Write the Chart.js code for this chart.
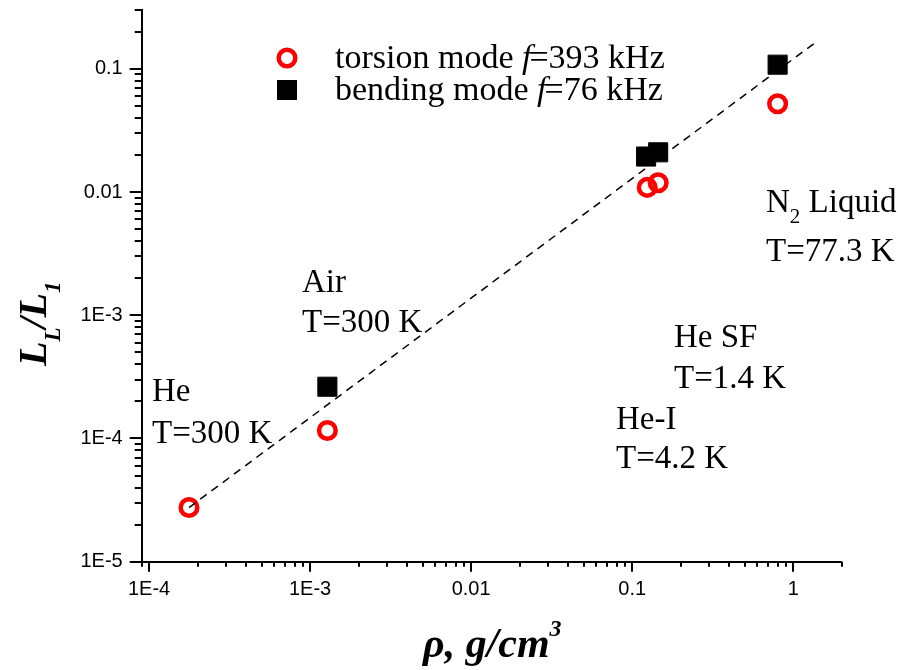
<!DOCTYPE html>
<html>
<head>
<meta charset="utf-8">
<script src="https://cdn.jsdelivr.net/npm/chart.js@4/dist/chart.umd.min.js"></script>
<style>
  html, body { margin: 0; padding: 0; background: #fff; }
  canvas { display: block; }
</style>
</head>
<body>
<canvas id="chart" width="898" height="670"></canvas>
<script>
// Density of the surrounding medium (g/cm^3) and measured loss ratio L_L/L_1
const media = ['He', 'Air', 'He-I', 'He SF', 'N2 Liquid'];
const torsionRho   = [1.77e-4, 1.28e-3, 0.124, 0.145, 0.80];
const torsionRatio = [2.75e-5, 1.16e-4, 0.0109, 0.0119, 0.052];
const bendingRho   = [1.28e-3, 0.122, 0.145, 0.80];
const bendingRatio = [2.63e-4, 0.0194, 0.0210, 0.108];
// Guide line through the data (end points)
const guideRho   = [1.77e-4, 1.43];
const guideRatio = [2.75e-5, 0.170];

const xTickValues = [1e-4, 1e-3, 0.01, 0.1, 1];
const xTickLabels = ['1E-4', '1E-3', '0.01', '0.1', '1'];
const yTickValues = [1e-5, 1e-4, 1e-3, 0.01, 0.1];
const yTickLabels = ['1E-5', '1E-4', '1E-3', '0.01', '0.1'];

const toPoints = (xs, ys) => xs.map((x, i) => ({ x: x, y: ys[i] }));

const SERIF = '"Liberation Serif", "Times New Roman", serif';
const SANS = '"Liberation Sans", Arial, sans-serif';

// Draws a run of text pieces with individual fonts and baseline shifts
function drawRuns(ctx, x, y, runs) {
  let cx = x;
  for (const r of runs) {
    ctx.font = r.font;
    ctx.fillText(r.text, cx, y + (r.dy || 0));
    cx += ctx.measureText(r.text).width + (r.kern || 0);
  }
}

const decorations = {
  id: 'decorations',
  afterDraw(chart) {
    const ctx = chart.ctx;
    const xs = chart.scales.x, ys = chart.scales.y;
    const area = chart.chartArea;
    ctx.save();
    ctx.strokeStyle = '#000';
    ctx.lineWidth = 2;

    // Log-axis tick marks: long at decades, short at 2..9
    ctx.beginPath();
    for (let d = -6; d <= 1; d++) {
      for (let m = 1; m <= 9; m++) {
        const v = m * Math.pow(10, d);
        if (v >= xs.min * 0.999 && v <= xs.max * 1.001) {
          const px = Math.round(xs.getPixelForValue(v));
          ctx.moveTo(px, area.bottom);
          ctx.lineTo(px, area.bottom + (m === 1 ? 10 : 5));
        }
        if (v >= ys.min * 0.999 && v <= ys.max * 1.001) {
          const py = Math.round(ys.getPixelForValue(v));
          ctx.moveTo(area.left, py);
          ctx.lineTo(area.left - (m === 1 ? 12 : 7), py);
        }
      }
    }
    ctx.stroke();

    ctx.fillStyle = '#000';
    ctx.textBaseline = 'alphabetic';
    ctx.textAlign = 'left';

    // Legend
    const lx = 287, ly1 = 58, ly2 = 90;
    ctx.beginPath();
    ctx.arc(lx, ly1, 8.3, 0, Math.PI * 2);
    ctx.lineWidth = 4.5;
    ctx.strokeStyle = '#ff0000';
    ctx.stroke();
    ctx.fillStyle = '#000';
    ctx.fillRect(lx - 10, ly2 - 10, 20, 20);
    const legReg = '34px ' + SERIF, legIt = 'italic 34px ' + SERIF;
    drawRuns(ctx, 335, 68, [
      { text: 'torsion mode ', font: legReg },
      { text: 'f', font: legIt, kern: -2 },
      { text: '=393 kHz', font: legReg }
    ]);
    drawRuns(ctx, 335, 100, [
      { text: 'bending mode ', font: legReg },
      { text: 'f', font: legIt, kern: -2 },
      { text: '=76 kHz', font: legReg }
    ]);

    // Medium labels
    const reg = '33px ' + SERIF;
    ctx.font = reg;
    ctx.fillText('He', 152, 401);
    ctx.fillText('T=300 K', 152, 443);
    ctx.fillText('Air', 302, 292);
    ctx.fillText('T=300 K', 302, 332);
    ctx.fillText('He SF', 674, 347);
    ctx.fillText('T=1.4 K', 674, 388);
    ctx.fillText('He-I', 616, 429);
    ctx.fillText('T=4.2 K', 616, 468);
    drawRuns(ctx, 766, 212, [
      { text: 'N', font: reg },
      { text: '2', font: '21px ' + SERIF, dy: 11 },
      { text: ' Liquid', font: reg }
    ]);
    ctx.font = reg;
    ctx.fillText('T=77.3 K', 766, 261);

    // X-axis title
    const bi = 'bold italic 42px ' + SERIF;
    drawRuns(ctx, 423, 657, [
      { text: '\u03C1, g/cm', font: bi },
      { text: '3', font: 'bold italic 24px ' + SERIF, dy: -21 }
    ]);

    // Y-axis title, rotated
    ctx.save();
    ctx.translate(46, 366);
    ctx.rotate(-Math.PI / 2);
    const big = 'bold italic 40px ' + SERIF;
    const sub = 'bold italic 23px ' + SERIF;
    drawRuns(ctx, 0, 0, [
      { text: 'L', font: big },
      { text: 'L', font: sub, dy: 14, kern: -1 },
      { text: '/L', font: big },
      { text: '1', font: sub, dy: 14 }
    ]);
    ctx.restore();

    ctx.restore();
  }
};

new Chart(document.getElementById('chart'), {
  data: {
    datasets: [
      {
        type: 'line',
        label: 'guide',
        data: toPoints(guideRho, guideRatio),
        borderColor: '#000',
        borderWidth: 1.5,
        borderDash: [8, 6],
        pointRadius: 0,
        fill: false,
        order: 0
      },
      {
        type: 'scatter',
        label: 'torsion mode f=393 kHz',
        data: toPoints(torsionRho, torsionRatio),
        pointStyle: 'circle',
        pointRadius: 8.3,
        borderWidth: 4.5,
        borderColor: '#ff0000',
        backgroundColor: 'rgba(0,0,0,0)',
        order: 1
      },
      {
        type: 'scatter',
        label: 'bending mode f=76 kHz',
        data: toPoints(bendingRho, bendingRatio),
        pointStyle: 'rect',
        pointRadius: 13.5,
        borderWidth: 1,
        borderColor: '#000',
        backgroundColor: '#000',
        order: 2
      }
    ]
  },
  options: {
    responsive: false,
    animation: false,
    layout: { autoPadding: false, padding: { left: 0, right: 56.3, top: 10, bottom: 0 } },
    plugins: { legend: { display: false }, tooltip: { enabled: false } },
    scales: {
      x: {
        type: 'logarithmic',
        position: 'bottom',
        min: 9e-5,
        max: 2,
        grid: { display: false, drawTicks: false },
        border: { display: true, color: '#000', width: 2 },
        afterBuildTicks: s => { s.ticks = xTickValues.map(v => ({ value: v })); },
        afterFit: s => { s.height = 108.3; s.paddingLeft = 0; s.paddingRight = 0; },
        ticks: {
          autoSkip: false,
          maxRotation: 0,
          padding: 16,
          color: '#000',
          font: { family: SANS, size: 20 },
          callback: (v, i) => xTickLabels[i]
        }
      },
      y: {
        type: 'logarithmic',
        position: 'left',
        min: 1e-5,
        max: 0.3,
        grid: { display: false, drawTicks: false },
        border: { display: true, color: '#000', width: 2 },
        afterBuildTicks: s => { s.ticks = yTickValues.map(v => ({ value: v })); },
        afterFit: s => { s.width = 141.7; s.paddingTop = 0; s.paddingBottom = 0; },
        ticks: {
          autoSkip: false,
          padding: 19,
          color: '#000',
          font: { family: SANS, size: 20 },
          callback: (v, i) => yTickLabels[i]
        }
      }
    }
  },
  plugins: [decorations]
});
</script>
</body>
</html>
